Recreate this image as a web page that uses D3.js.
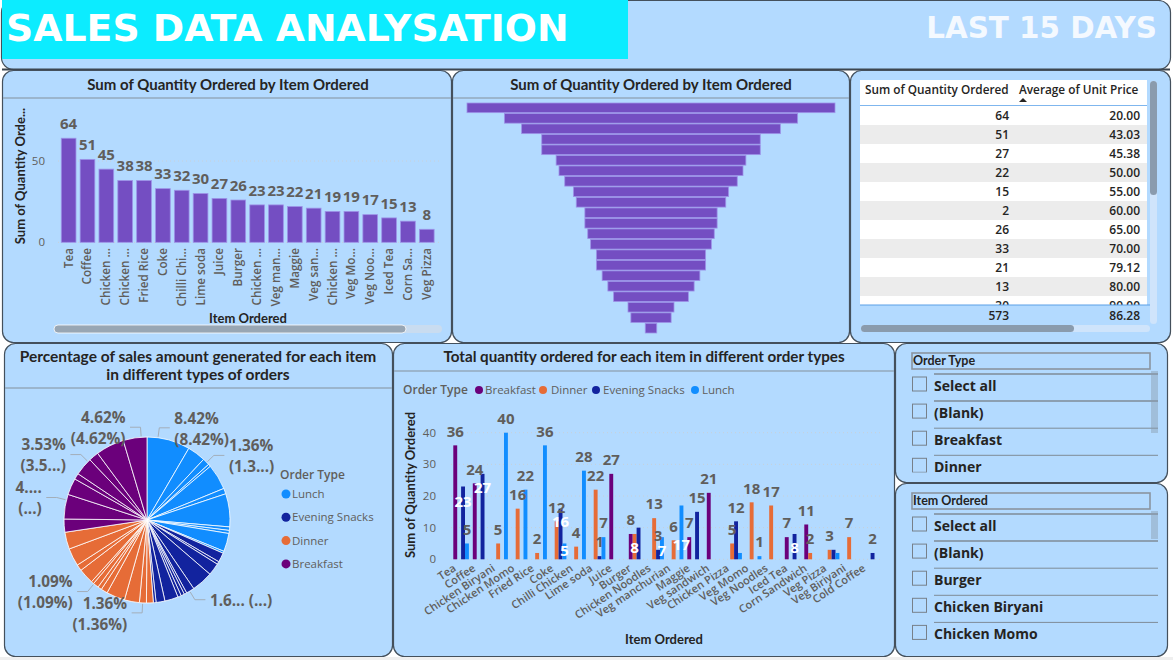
<!DOCTYPE html>
<html><head><meta charset="utf-8">
<script src="https://cdnjs.cloudflare.com/ajax/libs/d3/7.8.5/d3.min.js"></script>
<style>
html,body{margin:0;padding:0;background:#fff;overflow:hidden}
text{font-family:"Open Sans",sans-serif}
.ttl{font-family:Lato,sans-serif;font-weight:700;fill:#252423}
</style></head><body><svg id="c" width="1173" height="660"></svg>
<script>
// ---------- data ----------
const mainTitle = "SALES DATA ANALYSATION";
const rangeTitle = "LAST 15 DAYS";
const chartTitle = "Sum of Quantity Ordered by Item Ordered";
const barLabels = ["Tea","Coffee","Chicken ...","Chicken ...","Fried Rice","Coke","Chilli Chi...","Lime soda","Juice","Burger","Chicken ...","Veg man...","Maggie","Veg san...","Chicken ...","Veg Mo...","Veg Noo...","Iced Tea","Corn Sa...","Veg Pizza"];
const barValues = [64,51,45,38,38,33,32,30,27,26,23,23,22,21,19,19,17,15,13,8];
const funnelValues = [64,51,45,38,38,33,32,30,27,26,23,23,22,21,19,19,17,15,13,8,7,2];
const tableQty = ["64","51","27","22","15","2","26","33","21","13","30"];
const tablePrice = ["20.00","43.03","45.38","50.00","55.00","60.00","65.00","70.00","79.12","80.00","90.00"];
const tableTotals = ["573","86.28"];
const orderTypes = ["Breakfast","Dinner","Evening Snacks","Lunch"];
const items = ["Tea","Coffee","Chicken Biryani","Chicken Momo","Fried Rice","Coke","Chilli Chicken","Lime soda","Juice","Burger","Chicken Noodles","Veg manchurian","Maggie","Veg sandwich","Chicken Pizza","Veg Momo","Veg Noodles","Iced Tea","Corn Sandwich","Veg Pizza","Veg Biriyani","Cold Coffee"];
const breakfastQty = [36,24,0,0,0,0,0,0,27,8,0,0,7,21,0,0,0,7,11,0,0,0];
const dinnerQty    = [0,0,5,16,2,12,4,22,0,8,13,6,0,0,5,18,17,0,2,3,7,0];
const eveningQty   = [23,27,0,0,0,16,0,1,0,10,3,0,15,0,12,0,0,8,0,3,0,2];
const lunchQty     = [5,0,40,22,36,5,28,7,0,0,7,17,0,0,2,1,0,0,0,2,0,0];
const lunchPct   = [8.42,3.55,1.36,0.5,5.0,1.09,6.45,0.68,0.6,3.55,0.4];
const eveningPct = [1.83,0.55,2.39,4.17,1.6,0.51,0.67,0.67,2.61,1.72,0.53];
const dinnerPct  = [1.33,1.36,2.92,3.61,1.28,0.78,1.09,0.52,3.0,1.22,3.47,3.31];
const breakfastPct = [2.56,4.8,3.25,1.17,3.53,1.94,5.53,4.62];
const pieLegend = ["Lunch","Evening Snacks","Dinner","Breakfast"];
const pieCallouts = [
 {a:7.6, side:1, lines:["8.42%","(8.42%)"]},
 {a:46, side:1, lines:["1.36%","(1.3...)"]},
 {a:149, side:1, lines:["1.6... (...)"]},
 {a:183, side:-1, lines:["1.36%","(1.36%)"]},
 {a:219.7, side:-1, lines:["1.09%","(1.09%)"]},
 {a:284, side:-1, lines:["4....","(...)"]},
 {a:314.7, side:-1, lines:["3.53%","(3.5...)"]},
 {a:356, side:-1, lines:["4.62%","(4.62%)"]}
];
const orderSlicer = ["Select all","(Blank)","Breakfast","Dinner"];
const itemSlicer = ["Select all","(Blank)","Burger","Chicken Biryani","Chicken Momo"];

// ---------- helpers ----------
const BG="#b3daff", EDGE="#44505c", GREY="#605e5c", PURPLE="#744ec2";
const typeColor={Lunch:"#118dff","Evening Snacks":"#12239e",Dinner:"#e66c37",Breakfast:"#6b007b"};
const svg=d3.select("#c");
svg.append("rect").attr("width",1173).attr("height",660).attr("fill","#fff");
svg.append("rect").attr("y",657).attr("width",1173).attr("height",3).attr("fill","#efefef");
function panel(x,y,w,h,r=11){svg.append("rect").attr("x",x+.5).attr("y",y+.5).attr("width",w).attr("height",h).attr("rx",r).attr("fill",BG).attr("stroke",EDGE).attr("stroke-width",1.2);}
function txt(x,y,s,o={}){const t=svg.append("text").attr("x",x).attr("y",y).attr("dy","0.35em").attr("text-anchor",o.anchor||"start")
 .attr("font-size",o.size||12).attr("font-weight",o.weight||400).attr("fill",o.fill||GREY).attr("class",o.cls||null).text(s);
 if(o.family)t.style("font-family",o.family); return t;}
function rule(x0,x1,y){svg.append("line").attr("x1",x0).attr("x2",x1).attr("y1",y).attr("y2",y).attr("stroke","#93a9bd").attr("stroke-width",1.4);}
function scrollH(x,y,w,full,h){svg.append("rect").attr("x",x).attr("y",y).attr("width",full).attr("height",h).attr("rx",h/2).attr("fill","#c9dcf0");
 svg.append("rect").attr("x",x).attr("y",y).attr("width",w).attr("height",h).attr("rx",h/2).attr("fill","#98a6b4").attr("stroke","#fff").attr("stroke-width",.8);}

// ---------- panels ----------
panel(1,0,1169,69,12);
svg.append("line").attr("x1",2).attr("x2",1170).attr("y1",69.5).attr("y2",69.5).attr("stroke","#3d4650").attr("stroke-width",2);
svg.append("rect").attr("x",2).attr("y",0).attr("width",626).attr("height",59).attr("fill","#0cecff");
txt(6,27.5,mainTitle,{size:37.8,weight:700,fill:"#fff",family:"'DejaVu Sans'"});
txt(1157,28,rangeTitle,{size:29.4,weight:700,fill:"#f4f9ff",anchor:"end",family:"'DejaVu Sans'"});
panel(2,70,449,272);panel(452,70,397,272);panel(850,70,320,272);
panel(4,343,388,313);panel(393,343,501,313);panel(895,343,272,139);panel(895,483,272,173);

// ---------- bar chart ----------
txt(228,85,chartTitle,{anchor:"middle",size:15,cls:"ttl"}); rule(3,451,98);
const bx=d3.scaleBand().domain(d3.range(barValues.length)).range([59.2,436.2]).paddingInner(0.22).paddingOuter(0.11);
const by=d3.scaleLinear().domain([0,50]).range([242.3,161]);
svg.append("g").selectAll("line").data([0,50]).join("line").attr("x1",58).attr("x2",441).attr("y1",d=>by(d)).attr("y2",d=>by(d)).attr("stroke","#c8d0d8").attr("stroke-dasharray","1 3");
[0,50].forEach(t=>txt(45,by(t),t,{anchor:"end",size:11.5}));
svg.append("g").selectAll("rect").data(barValues).join("rect").attr("x",(d,i)=>bx(i)).attr("width",bx.bandwidth()).attr("y",d=>by(d)).attr("height",d=>by(0)-by(d)).attr("fill",PURPLE).attr("stroke","#9d93e8").attr("stroke-width",.8);
barValues.forEach((v,i)=>{const c=bx(i)+bx.bandwidth()/2;
 txt(c,by(v)-14.5,v,{anchor:"middle",size:15,weight:700});
 svg.append("text").attr("transform",`translate(${c+4},248) rotate(-90)`).attr("text-anchor","end").attr("font-size",11.7).attr("font-weight",600).attr("fill",GREY).text(barLabels[i]);});
svg.append("text").attr("transform","translate(25,176) rotate(-90)").attr("text-anchor","middle").attr("font-size",13).attr("class","ttl").text("Sum of Quantity Orde...");
txt(248,318,"Item Ordered",{anchor:"middle",size:13,cls:"ttl"});
scrollH(54,325,352,388,8);

// ---------- funnel ----------
txt(651,85,chartTitle,{anchor:"middle",size:15,cls:"ttl"}); rule(453,849,98);
const fw=d3.scaleLinear().domain([0,64]).range([0,368]);
const fy=d3.scaleBand().domain(d3.range(funnelValues.length)).range([103,333]).paddingInner(0.08);
svg.append("g").selectAll("rect").data(funnelValues).join("rect").attr("x",d=>651-fw(d)/2).attr("width",d=>fw(d)).attr("y",(d,i)=>fy(i)).attr("height",fy.bandwidth()).attr("fill",PURPLE).attr("stroke","#9d93e8").attr("stroke-width",.8);

// ---------- table ----------
svg.append("rect").attr("x",860).attr("y",80).attr("width",287).attr("height",225).attr("fill","#fff");
svg.append("clipPath").attr("id","tc").append("rect").attr("x",860).attr("y",106).attr("width",287).attr("height",199);
const rowY=d3.scaleLinear().domain([0,1]).range([106,125]);
const tg=svg.append("g").attr("clip-path","url(#tc)");
tableQty.forEach((q,i)=>{ if(i%2)tg.append("rect").attr("x",860).attr("y",rowY(i)).attr("width",287).attr("height",19).attr("fill","#ececec");
 tg.append("text").attr("x",1009).attr("y",rowY(i)+9.5).attr("dy","0.35em").attr("text-anchor","end").attr("font-size",12).attr("font-weight",600).attr("fill","#252423").text(q);
 tg.append("text").attr("x",1140).attr("y",rowY(i)+9.5).attr("dy","0.35em").attr("text-anchor","end").attr("font-size",12).attr("font-weight",600).attr("fill","#252423").text(tablePrice[i]);});
txt(865,90,"Sum of Quantity Ordered",{size:11.8,weight:600,fill:"#252423"});
txt(1019,90,"Average of Unit Price",{size:11.8,weight:600,fill:"#252423"});
svg.append("path").attr("d","M1019,102 l4,-4 l4,4 z").attr("fill","#252423");
svg.append("line").attr("x1",860).attr("x2",1147).attr("y1",105.5).attr("y2",105.5).attr("stroke","#7fb6ee");
svg.append("line").attr("x1",860).attr("x2",1150).attr("y1",305).attr("y2",305).attr("stroke","#5b9fe6");
txt(1009,316,tableTotals[0],{anchor:"end",size:12,weight:600,fill:"#252423"});
txt(1140,316,tableTotals[1],{anchor:"end",size:12,weight:600,fill:"#252423"});
svg.append("rect").attr("x",1150).attr("y",81).attr("width",7).attr("height",243).attr("rx",3.5).attr("fill","#cfe4fb");
svg.append("rect").attr("x",1150).attr("y",81).attr("width",7).attr("height",114).attr("rx",3.5).attr("fill","#8a9bad");
svg.append("rect").attr("x",861).attr("y",325).attr("width",289).attr("height",7).attr("rx",3.5).attr("fill","#cfe4fb");
svg.append("rect").attr("x",861).attr("y",325).attr("width",213).attr("height",7).attr("rx",3.5).attr("fill","#8a9bad");

// ---------- pie ----------
txt(198,357,"Percentage of sales amount generated for each item",{anchor:"middle",size:15.5,cls:"ttl"});
txt(198,375,"in different types of orders",{anchor:"middle",size:15.5,cls:"ttl"});
rule(5,392,388);
const pieData=[].concat(lunchPct.map(v=>({v,t:"Lunch"})),eveningPct.map(v=>({v,t:"Evening Snacks"})),dinnerPct.map(v=>({v,t:"Dinner"})),breakfastPct.map(v=>({v,t:"Breakfast"})));
const pc=[147,520], R=83;
const arcs=d3.pie().sort(null).value(d=>d.v)(pieData);
const arc=d3.arc().innerRadius(0).outerRadius(R);
svg.append("g").attr("transform",`translate(${pc})`).selectAll("path").data(arcs).join("path").attr("d",arc).attr("fill",d=>typeColor[d.data.t]).attr("stroke","#fff").attr("stroke-width",.8);
pieCallouts.forEach(c=>{const rad=c.a*Math.PI/180,p=r=>[pc[0]+r*Math.sin(rad),pc[1]-r*Math.cos(rad)];
 const s=p(R+1),e=p(R+10),end=[e[0]+c.side*10.5,e[1]];
 svg.append("polyline").attr("points",[s,e,end].join(" ")).attr("fill","none").attr("stroke","#a3aeb9").attr("stroke-width",1);
 const n=c.lines.length;
 c.lines.forEach((l,i)=>txt(end[0]+c.side*4.5,end[1]+(i-(n-1)/2)*21+1,l,{anchor:c.side>0?"start":"end",size:15.3,weight:700}));});
txt(280,475,"Order Type",{size:12,weight:600});
pieLegend.forEach((t,i)=>{const y=494+i*23.3;svg.append("circle").attr("cx",286).attr("cy",y).attr("r",4.5).attr("fill",typeColor[t]);txt(292,y,t,{size:11.5});});

// ---------- grouped columns ----------
txt(644,357,"Total quantity ordered for each item in different order types",{anchor:"middle",size:15.2,cls:"ttl"});
rule(394,894,371);
txt(403,390,"Order Type",{size:12,weight:600});
[[479,485],[543,551],[596,603],[695,702]].forEach((p,i)=>{svg.append("circle").attr("cx",p[0]).attr("cy",390).attr("r",4).attr("fill",typeColor[orderTypes[i]]);txt(p[1],390,orderTypes[i],{size:11.5});});
const gx=d3.scaleBand().domain(items).range([451.3,880.3]);
const sx=d3.scaleBand().domain(orderTypes).range([2,gx.bandwidth()-1.9]);
const gy=d3.scaleLinear().domain([0,40]).range([559.3,432.7]);
[0,10,20,30,40].forEach(t=>{svg.append("line").attr("x1",451).attr("x2",883).attr("y1",gy(t)).attr("y2",gy(t)).attr("stroke","#c8d0d8").attr("stroke-dasharray","1 3");txt(436,gy(t),t,{anchor:"end",size:11.5});});
const series={Breakfast:breakfastQty,Dinner:dinnerQty,"Evening Snacks":eveningQty,Lunch:lunchQty};
const insideLabels={"Tea|Evening Snacks":15,"Coffee|Evening Snacks":14,"Coke|Evening Snacks":13,"Coke|Lunch":7,"Burger|Dinner":14,"Chicken Noodles|Lunch":14,"Veg manchurian|Lunch":39,"Iced Tea|Evening Snacks":14};
const hiddenLabels=new Set(["Burger|Evening Snacks","Chicken Pizza|Lunch","Veg Pizza|Evening Snacks","Veg Pizza|Lunch"]);
orderTypes.forEach(t=>items.forEach((it,i)=>{const v=series[t][i]; if(!v)return;
 svg.append("rect").attr("x",gx(it)+sx(t)).attr("width",sx.bandwidth()).attr("y",gy(v)).attr("height",gy(0)-gy(v)).attr("fill",typeColor[t]);}));
orderTypes.forEach(t=>items.forEach((it,i)=>{const v=series[t][i]; if(!v)return; const k=it+"|"+t; if(hiddenLabels.has(k))return;
 const c=gx(it)+sx(t)+sx.bandwidth()/2, ins=insideLabels[k];
 if(ins!==undefined) txt(c,gy(v)+ins,v,{anchor:"middle",size:15,weight:700,fill:"#fff"});
 else txt(c,gy(v)-14,v,{anchor:"middle",size:15,weight:700});}));
items.forEach(it=>{svg.append("text").attr("transform",`translate(${gx(it)+5.5},570) rotate(-33.7)`).attr("text-anchor","end").attr("font-size",11).attr("font-weight",600).attr("fill",GREY).text(it);});
svg.append("text").attr("transform","translate(415,485) rotate(-90)").attr("text-anchor","middle").attr("font-size",13).attr("class","ttl").text("Sum of Quantity Ordered");
txt(664,639,"Item Ordered",{anchor:"middle",size:13,cls:"ttl"});

// ---------- slicers ----------
function slicer(top,bottom,title,list,barH,id){
 svg.append("clipPath").attr("id",id).append("rect").attr("x",895).attr("y",top).attr("width",272).attr("height",bottom-top);
 const g=svg.append("g").attr("clip-path",`url(#${id})`);
 g.append("rect").attr("x",912).attr("y",top+10).attr("width",238).attr("height",16).attr("fill","none").attr("stroke","#8a94a0").attr("stroke-width",1.6);
 g.append("text").attr("x",913).attr("y",top+18).attr("dy","0.35em").attr("font-size",12.5).attr("class","ttl").attr("fill","#3b3a39").text(title);
 list.forEach((s,i)=>{const y=top+31+i*27.1;
  g.append("line").attr("x1",934).attr("x2",1158).attr("y1",y).attr("y2",y).attr("stroke","#7f8b97").attr("stroke-width",i<2?1.5:1);
  g.append("rect").attr("x",912.5).attr("y",y+3).attr("width",14).attr("height",14).attr("fill","none").attr("stroke","#77808a");
  g.append("text").attr("x",934).attr("y",y+12).attr("dy","0.35em").attr("font-size",14).attr("font-weight",700).attr("fill","#252423").text(s);});
 g.append("rect").attr("x",1151).attr("y",top+28).attr("width",7).attr("height",barH).attr("fill","#8a9bad").attr("opacity",.45);
}
slicer(343,472.5,"Order Type",orderSlicer,62,"s1");
slicer(483,656,"Item Ordered",itemSlicer,28,"s2");
</script></body></html>
